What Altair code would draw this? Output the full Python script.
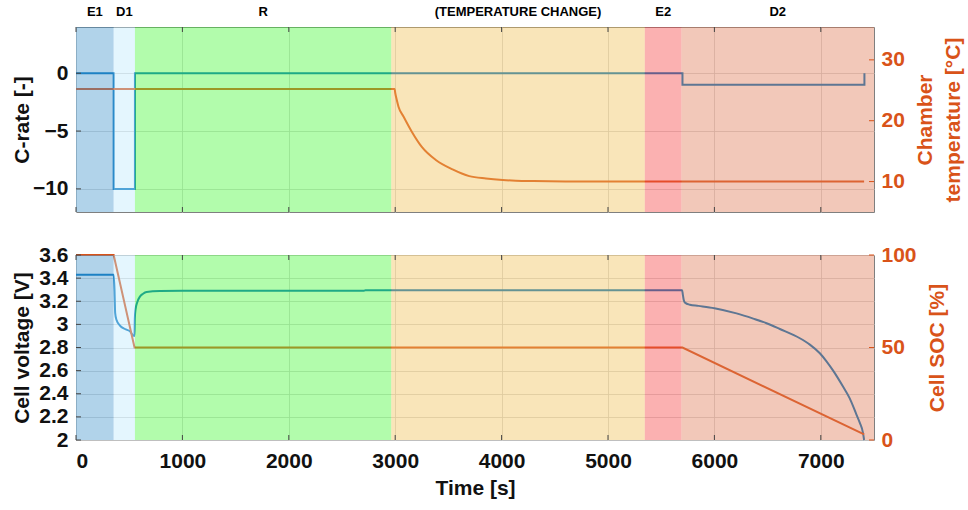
import altair as alt
import pandas as pd

# ---------------- data ----------------
crate_t = [0, 354, 354, 554, 554, 5700, 5700, 7410, 7410]
crate_v = [0, 0, -10, -10, 0, 0, -1, -1, 0]

temp_t = [0, 2995, 3000, 3015, 3031, 3078, 3156, 3250, 3382, 3539, 3696, 3853,
          4010, 4135, 4300, 4600, 5000, 7407]
temp_v = [25.2, 25.2, 24.6, 23.4, 22.3, 20.7, 18.2, 15.7, 13.55, 12.0, 10.9, 10.5,
          10.26, 10.15, 10.08, 10.02, 10.0, 10.0]

volt_t = [0, 354, 362, 368, 380, 413, 460, 507, 545, 550, 553, 560, 575, 601, 630,
          663, 789, 1000, 2700, 2720, 5697, 5703, 5712, 5722, 5769, 5850, 6000, 6208,
          6365, 6490, 6615, 6803, 6897, 6991, 7050, 7116, 7210, 7272, 7335, 7366,
          7397, 7407]
volt_v = [3.43, 3.43, 3.30, 3.10, 3.04, 2.99, 2.96, 2.94, 2.90, 2.90, 3.05, 3.13, 3.19,
          3.24, 3.265, 3.28, 3.288, 3.29, 3.29, 3.295, 3.295, 3.26, 3.21, 3.19, 3.17,
          3.16, 3.14, 3.095, 3.05, 3.01, 2.96, 2.88, 2.825, 2.75, 2.685, 2.6, 2.46,
          2.36, 2.22, 2.15, 2.06, 2.0]

soc_t = [0, 354, 550, 5700, 7407]
soc_v = [100, 100, 50, 50, 3]

phase_names = ["E1", "D1", "R", "(TEMPERATURE CHANGE)", "E2", "D2"]
phase_start = [0, 354, 554, 2963, 5346, 5691]
phase_end = [354, 554, 2963, 5346, 5691, 7500]
phase_bg = ["#b1d3ea", "#e4f6fe", "#b2fcac", "#f9e5b9", "#fbb1b1", "#f2c8b9"]

x_ticks = [0, 1000, 2000, 3000, 4000, 5000, 6000, 7000]
crate_ticks = [-10, -5, 0]
temp_ticks = [10, 20, 30]
volt_ticks = [2, 2.2, 2.4, 2.6, 2.8, 3, 3.2, 3.4, 3.6]
soc_ticks = [0, 50, 100]

# ---------------- styling ----------------
W, H = 798, 185
GAP = 43
LEFT, TOP = 76, 27
ALPHA = 0.42
BLUE = "#0072BD"
ORANGE = "#D95319"
FONT = "Liberation Sans"
TICK = 5


def overlay_fill(hexcol):
    rgb = [int(hexcol[i:i + 2], 16) for i in (1, 3, 5)]
    out = [max(0, min(255, round((c - (1 - ALPHA) * 255) / ALPHA))) for c in rgb]
    return "#%02x%02x%02x" % tuple(out)


phase_df = pd.DataFrame({
    "name": phase_names,
    "start": phase_start,
    "end": phase_end,
    "fill": [overlay_fill(c) for c in phase_bg],
})
phase_df["mid"] = (phase_df["start"] + phase_df["end"]) / 2

crate_df = pd.DataFrame({"t": crate_t, "v": crate_v, "i": range(len(crate_t))})
temp_df = pd.DataFrame({"t": temp_t, "v": temp_v, "i": range(len(temp_t))})
volt_df = pd.DataFrame({"t": volt_t, "v": volt_v, "i": range(len(volt_t))})
soc_df = pd.DataFrame({"t": soc_t, "v": soc_v, "i": range(len(soc_t))})
xt_df = pd.DataFrame({"t": x_ticks})

xscale = alt.Scale(domain=[0, 7500], nice=False, zero=False)
crate_dom = [-12, 4]
temp_dom = [5, 35.4]
volt_dom = [2, 3.6]
soc_dom = [0, 100]


def x_enc(show_labels):
    if show_labels:
        ax = alt.Axis(values=x_ticks, format="d", grid=True, title="Time [s]",
                      labelPadding=10, titlePadding=6)
    else:
        ax = alt.Axis(values=x_ticks, grid=True, labels=False, title=None)
    return alt.X("t:Q", scale=xscale, axis=ax)


def left_axis(title, values, fmt):
    return alt.Axis(values=values, format=fmt, grid=True, title=title,
                    titleX=-54, titleY=H / 2, titleAngle=270,
                    titleAlign="center", titleBaseline="middle", labelPadding=8)


def right_axis(title, values, tx):
    return alt.Axis(values=values, format="d", grid=False, title=title, orient="right",
                    titleX=tx, titleY=H / 2, titleAngle=270, titleAlign="center",
                    titleBaseline="middle", labelPadding=7, labelColor=ORANGE,
                    titleColor=ORANGE, titleLineHeight=28)


def rects():
    return alt.Chart(phase_df).mark_rect(opacity=ALPHA).encode(
        x=alt.X("start:Q", scale=xscale),
        x2="end:Q",
        y=alt.value(0),
        y2=alt.value(H),
        color=alt.Color("fill:N", scale=None),
    )


def x_inner_ticks():
    bot = alt.Chart(xt_df).mark_rule(color="#444444", strokeWidth=1).encode(
        x=alt.X("t:Q", scale=xscale), y=alt.value(H - TICK), y2=alt.value(H))
    top_ = alt.Chart(xt_df).mark_rule(color="#444444", strokeWidth=1).encode(
        x=alt.X("t:Q", scale=xscale), y=alt.value(0), y2=alt.value(TICK))
    return [bot, top_]


def y_inner_ticks(values, dom, side, color):
    df = pd.DataFrame({"v": values})
    x0, x1 = (0, TICK) if side == "left" else (W - TICK, W)
    return alt.Chart(df).mark_rule(color=color, strokeWidth=1).encode(
        y=alt.Y("v:Q", scale=alt.Scale(domain=dom, nice=False, zero=False), axis=None),
        x=alt.value(x0), x2=alt.value(x1))


# ---------------- top panel ----------------
crate_line = alt.Chart(crate_df).mark_line(color=BLUE, strokeWidth=2).encode(
    x=x_enc(False),
    y=alt.Y("v:Q", scale=alt.Scale(domain=crate_dom, nice=False, zero=False),
            axis=left_axis("C-rate [-]", crate_ticks, "d")),
    order="i:Q",
)
temp_line = alt.Chart(temp_df).mark_line(color=ORANGE, strokeWidth=2,
                                         interpolate="monotone").encode(
    x=x_enc(False),
    y=alt.Y("v:Q", scale=alt.Scale(domain=temp_dom, nice=False, zero=False),
            axis=right_axis(["Chamber", "temperature [°C]"], temp_ticks, 51)),
    order="i:Q",
)
labels = alt.Chart(phase_df).mark_text(fontSize=13, fontWeight="bold", font=FONT,
                                       color="black").encode(
    x=alt.X("mid:Q", scale=xscale),
    y=alt.value(-15),
    text="name:N",
)
top = alt.layer(
    crate_line, temp_line, rects(), *x_inner_ticks(),
    y_inner_ticks(crate_ticks, crate_dom, "left", "#444444"),
    y_inner_ticks(temp_ticks, temp_dom, "right", ORANGE),
    labels,
).resolve_scale(y="independent").properties(width=W, height=H)

# ---------------- bottom panel ----------------
volt_line = alt.Chart(volt_df).mark_line(color=BLUE, strokeWidth=2,
                                         interpolate="monotone").encode(
    x=x_enc(True),
    y=alt.Y("v:Q", scale=alt.Scale(domain=volt_dom, nice=False, zero=False),
            axis=left_axis("Cell voltage [V]", volt_ticks, ".1~f")),
    order="i:Q",
)
soc_line = alt.Chart(soc_df).mark_line(color=ORANGE, strokeWidth=2).encode(
    x=x_enc(True),
    y=alt.Y("v:Q", scale=alt.Scale(domain=soc_dom, nice=False, zero=False),
            axis=right_axis("Cell SOC [%]", soc_ticks, 63)),
    order="i:Q",
)
bottom = alt.layer(
    volt_line, soc_line, rects(), *x_inner_ticks(),
    y_inner_ticks(volt_ticks, volt_dom, "left", "#444444"),
    y_inner_ticks(soc_ticks, soc_dom, "right", ORANGE),
).resolve_scale(y="independent").properties(width=W, height=H)

# with autosize "none" the concat view counts the panel width but not its height
chart = alt.vconcat(top, bottom, spacing=GAP, bounds="flush").properties(
    autosize=alt.AutoSizeParams(type="none"),
    padding={"left": LEFT, "top": TOP, "right": 968 - LEFT - W, "bottom": 510 - TOP},
    background="white",
).configure_view(
    stroke="#7f7f7f", strokeWidth=1
).configure_axis(
    domain=False, ticks=False,
    labelFont=FONT, labelFontSize=21, labelFontWeight="bold", labelColor="#111111",
    titleFont=FONT, titleFontSize=21, titleFontWeight="bold", titleColor="#111111",
    gridColor="#d0d0d0", gridOpacity=0.8,
)

chart.save("out.html", embed_options={"renderer": "svg", "actions": False})
